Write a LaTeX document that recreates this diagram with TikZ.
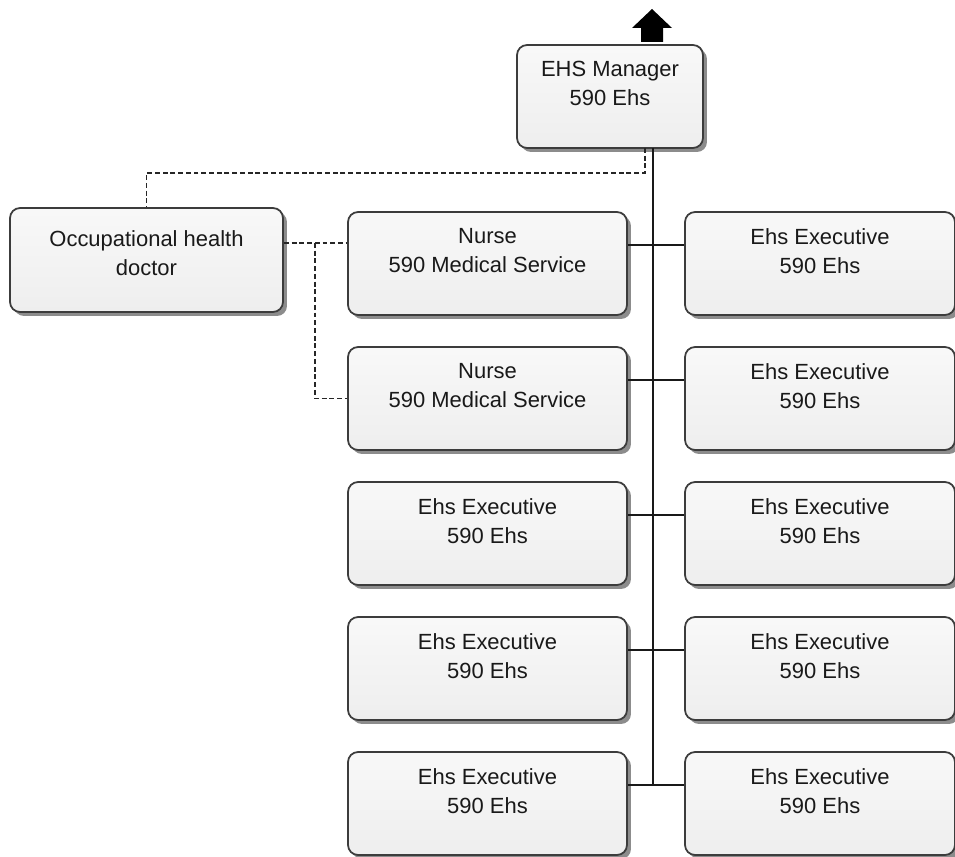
\documentclass[tikz,border=0pt]{standalone}
\usepackage{fontspec}
\setmainfont{Liberation Sans}
\usetikzlibrary{positioning,shadows}

\definecolor{boxline}{RGB}{60,60,60}
\definecolor{boxfill}{RGB}{238,238,238}

\tikzset{
	unitbox/.style={draw=boxline, line width=1pt, rounded corners=0.2cm,
		top color=white!60!boxfill, bottom color=boxfill,
		minimum height=2.06cm, inner sep=0pt,
		drop shadow={shadow xshift=0.08cm, shadow yshift=-0.08cm, fill=black!45, opacity=1}},
	boxtext/.style={align=center, inner sep=0pt, text=black!90,
		font=\fontsize{12.5}{16.5}\selectfont},
	orgline/.style={draw=black!90, line width=1.1pt},
	dashline/.style={draw=black!85, line width=1pt, dash pattern=on 2.8pt off 1.6pt}
}

\begin{document}
\begin{tikzpicture}[x=0.02cm,y=-0.02cm]
\useasboundingbox (0,0) rectangle (955,857);

% manager
\node[unitbox, minimum width=3.72cm] (mgr) at (610,96.5) {};
\node[boxtext, below=0.34cm of mgr.north] (mgrt) {EHS Manager\\590 Ehs};
\fill[black] (641,42) -- (641,28) -- (632,28) -- (652,9) -- (672,28) -- (663,28) -- (663,42) -- cycle;

% doctor
\node[unitbox, minimum width=5.46cm, minimum height=2.08cm] (doc) at (146.5,260) {};
\node[boxtext, below=0.46cm of doc.north] (doct) {Occupational health\\doctor};

% left column
\node[unitbox, minimum width=5.58cm] (l1) at (487.5,263.5) {};
\node[boxtext, below=0.34cm of l1.north] (lt1) {Nurse\\590 Medical Service};
\node[unitbox, minimum width=5.58cm] (l2) at (487.5,398.5) {};
\node[boxtext, below=0.34cm of l2.north] (lt2) {Nurse\\590 Medical Service};
\foreach \r/\y in {3/533.5,4/668.5,5/803.5}{
	\node[unitbox, minimum width=5.58cm] (l\r) at (487.5,\y) {};
	\node[boxtext, below=0.34cm of l\r.north] (lt\r) {Ehs Executive\\590 Ehs};
}

% right column
\foreach \r/\y in {1/263.5,2/398.5,3/533.5,4/668.5,5/803.5}{
	\node[unitbox, minimum width=5.4cm] (r\r) at (820,\y) {};
	\node[boxtext, below=0.34cm of r\r.north] (rt\r) {Ehs Executive\\590 Ehs};
}

% solid lines
\coordinate (tktop) at (653,148);
\coordinate (tkbot) at (653,785);
\draw[orgline] (tktop) -- (tkbot);
\foreach \r in {1,...,5}{
	\draw[orgline] ([yshift=0.37cm]l\r.east) -- ([yshift=0.37cm]r\r.west);
}

% dotted lines
\coordinate (dsh) at (645,148);
\draw[dashline] (dsh) -- ++(0,25) -| (doc.north);
\coordinate (nd) at ([yshift=0.41cm]l1.west);
\draw[dashline] (doc.east |- nd) -- (nd);
\draw[dashline] (doc.east |- nd) ++(31,0) |- (l2.west);

\end{tikzpicture}
\end{document}
